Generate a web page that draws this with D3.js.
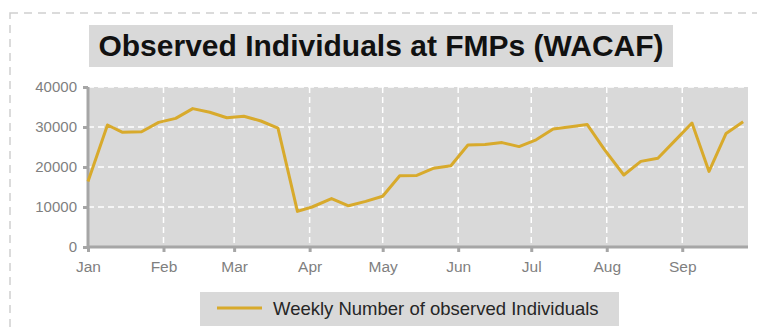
<!DOCTYPE html>
<html>
<head>
<meta charset="utf-8">
<script src="https://cdn.jsdelivr.net/npm/d3@7"></script>
<style>
  body { margin: 0; background: #fff; }
  text { font-family: "Liberation Sans", Arial, sans-serif; }
</style>
</head>
<body>
<div id="chart"></div>
<script>
// weekly observations (2020)
const weekDates = [
  "2020-01-01", "2020-01-09", "2020-01-15", "2020-01-23", "2020-01-30",
  "2020-02-06", "2020-02-13", "2020-02-20", "2020-02-27", "2020-03-05",
  "2020-03-12", "2020-03-19", "2020-03-27", "2020-04-02", "2020-04-10",
  "2020-04-17", "2020-04-24", "2020-05-01", "2020-05-08", "2020-05-15",
  "2020-05-22", "2020-05-29", "2020-06-05", "2020-06-12", "2020-06-19",
  "2020-06-26", "2020-07-03", "2020-07-10", "2020-07-18", "2020-07-24",
  "2020-07-31", "2020-08-08", "2020-08-15", "2020-08-22", "2020-08-29",
  "2020-09-05", "2020-09-12", "2020-09-19", "2020-09-26"
];
const weeklyIndividuals = [
  16400, 30500, 28700, 28800, 31150,
  32150, 34600, 33700, 32300, 32700,
  31500, 29700, 8900, 10000, 12100,
  10300, 11400, 12700, 17800, 17900,
  19700, 20300, 25500, 25600, 26100,
  25100, 26800, 29500, 30100, 30600,
  24400, 18000, 21400, 22200, 26600,
  31000, 18900, 28400, 31300
];
const yTicks = [0, 10000, 20000, 30000, 40000];
const monthLabels = ["Jan", "Feb", "Mar", "Apr", "May", "Jun", "Jul", "Aug", "Sep"];

const width = 757, height = 329;
const margin = {left: 88, right: 9, top: 87, bottom: 82};
const parse = d3.timeParse("%Y-%m-%d");
const data = weekDates.map((d, i) => ({date: parse(d), value: weeklyIndividuals[i]}));

const svg = d3.select("#chart").append("svg")
  .attr("width", width)
  .attr("height", height);

// dashed outer frame
svg.append("rect")
  .attr("x", 10).attr("y", 13)
  .attr("width", 800).attr("height", 400)
  .attr("fill", "none")
  .attr("stroke", "#cfcfcf")
  .attr("stroke-width", 1.5)
  .attr("stroke-dasharray", "8,6");

const x = d3.scaleTime()
  .domain([parse("2020-01-01"), parse("2020-09-28")])
  .range([margin.left, width - margin.right]);
const y = d3.scaleLinear()
  .domain([0, 40000])
  .range([height - margin.bottom, margin.top]);

const months = monthLabels.map((m, i) => new Date(2020, i, 1));

// plot background
svg.append("rect")
  .attr("x", x.range()[0]).attr("y", y(40000))
  .attr("width", x.range()[1] - x.range()[0])
  .attr("height", y(0) - y(40000))
  .attr("fill", "#d9d9d9");

// grid
svg.append("g").selectAll("line")
  .data(yTicks.filter(t => t > 0))
  .join("line")
  .attr("x1", x.range()[0]).attr("x2", x.range()[1])
  .attr("y1", d => y(d)).attr("y2", d => y(d))
  .attr("stroke", "#fff").attr("stroke-width", 1.5)
  .attr("stroke-dasharray", "6,4");
svg.append("g").selectAll("line")
  .data(months.slice(1))
  .join("line")
  .attr("x1", d => x(d)).attr("x2", d => x(d))
  .attr("y1", y(40000)).attr("y2", y(0))
  .attr("stroke", "#fff").attr("stroke-width", 1.5)
  .attr("stroke-dasharray", "6,4");

// axes
const yAxis = svg.append("g")
  .attr("transform", `translate(${margin.left},0)`)
  .call(d3.axisLeft(y).tickValues(yTicks).tickFormat(d3.format("d")).tickSize(5).tickPadding(6));
const xAxis = svg.append("g")
  .attr("transform", `translate(0,${y(0)})`)
  .call(d3.axisBottom(x).tickValues(months).tickFormat((d, i) => monthLabels[i]).tickSize(5).tickPadding(9));

[yAxis, xAxis].forEach(a => {
  a.select(".domain").attr("stroke", "#a6a6a6").attr("stroke-width", 3);
  a.selectAll(".tick line").attr("stroke", "#a6a6a6").attr("stroke-width", 3);
  a.selectAll(".tick text")
    .attr("fill", "#7f7f7f")
    .style("font-size", "15px")
    .style("font-family", "'Liberation Sans', Arial, sans-serif");
});
xAxis.selectAll(".tick text").style("font-size", "15.5px");
xAxis.select(".domain").attr("d", `M${x.range()[0]},0H${x.range()[1]}`);
yAxis.select(".domain").attr("d", `M0,${y(40000)}V${y(0)}`);

// the line
const line = d3.line()
  .x(d => x(d.date))
  .y(d => y(d.value));
svg.append("path")
  .datum(data)
  .attr("d", line)
  .attr("fill", "none")
  .attr("stroke", "#d8aa2c")
  .attr("stroke-width", 3)
  .attr("stroke-linejoin", "round");

// title
svg.append("rect")
  .attr("x", 89).attr("y", 25)
  .attr("width", 584).attr("height", 42)
  .attr("fill", "#d9d9d9");
svg.append("text")
  .attr("x", 381).attr("y", 56)
  .attr("text-anchor", "middle")
  .attr("font-size", 30)
  .attr("font-weight", "bold")
  .attr("fill", "#111")
  .text("Observed Individuals at FMPs (WACAF)");

// legend
svg.append("rect")
  .attr("x", 200).attr("y", 292)
  .attr("width", 419).attr("height", 34)
  .attr("fill", "#d9d9d9");
svg.append("line")
  .attr("x1", 217).attr("x2", 262)
  .attr("y1", 308).attr("y2", 308)
  .attr("stroke", "#d8aa2c").attr("stroke-width", 3);
svg.append("text")
  .attr("x", 273).attr("y", 315)
  .attr("font-size", 18.5)
  .attr("fill", "#262626")
  .text("Weekly Number of observed Individuals");
</script>
</body>
</html>
